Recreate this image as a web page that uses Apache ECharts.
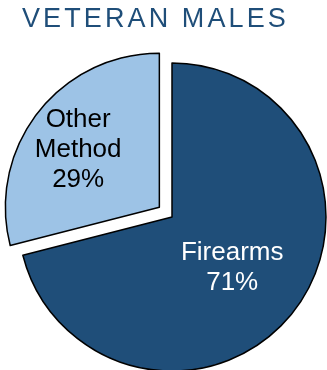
<!DOCTYPE html>
<html>
<head>
<meta charset="utf-8">
<script src="https://cdn.jsdelivr.net/npm/echarts@6/dist/echarts.min.js"></script>
<style>
  html, body { margin: 0; padding: 0; background: #ffffff; }
  #wrap { position: relative; width: 327px; height: 370px; }
  #chart { width: 327px; height: 370px; }
  #heading {
    position: absolute; left: 22px; top: 5px; margin: 0;
    font-family: 'Liberation Sans', Arial, sans-serif;
    font-size: 27px; line-height: 27px; font-weight: normal;
    letter-spacing: 3.1px; color: #1F4E79; white-space: nowrap;
    z-index: 2;
  }
</style>
</head>
<body>
<div id="wrap">
  <div id="heading">VETERAN MALES</div>
  <div id="chart"></div>
</div>
<script>
// Method of suicide, veteran males
const categories = ['Firearms', 'Other\nMethod'];
const shares = [71, 29];
const sliceColors = ['#1F4E79', '#9DC3E6'];
const labelColors = ['#ffffff', '#000000'];

// nudges applied to each label after the default mid-radius placement
const labelNudge = [[-3, 2], [-18, -8]];

const chart = echarts.init(document.getElementById('chart'), null, { renderer: 'canvas' });

const pieData = categories.map((name, i) => ({
  name: name,
  value: shares[i],
  selected: i === 1,
  itemStyle: { color: sliceColors[i] },
  label: { color: labelColors[i] }
}));

chart.setOption({
  animation: false,
  series: [{
    type: 'pie',
    center: [172, 217],
    radius: 154,
    startAngle: 90,
    clockwise: true,
    selectedMode: 'single',
    selectedOffset: 16,
    itemStyle: { borderColor: '#000000', borderWidth: 1.5 },
    label: {
      show: true,
      position: 'inside',
      fontFamily: 'Liberation Sans, Arial, sans-serif',
      fontSize: 26,
      lineHeight: 30,
      formatter: p => p.name + '\n' + p.value + '%'
    },
    labelLayout: p => ({ dx: labelNudge[p.dataIndex][0], dy: labelNudge[p.dataIndex][1] }),
    labelLine: { show: false },
    emphasis: { disabled: true },
    data: pieData
  }]
});
</script>
</body>
</html>
